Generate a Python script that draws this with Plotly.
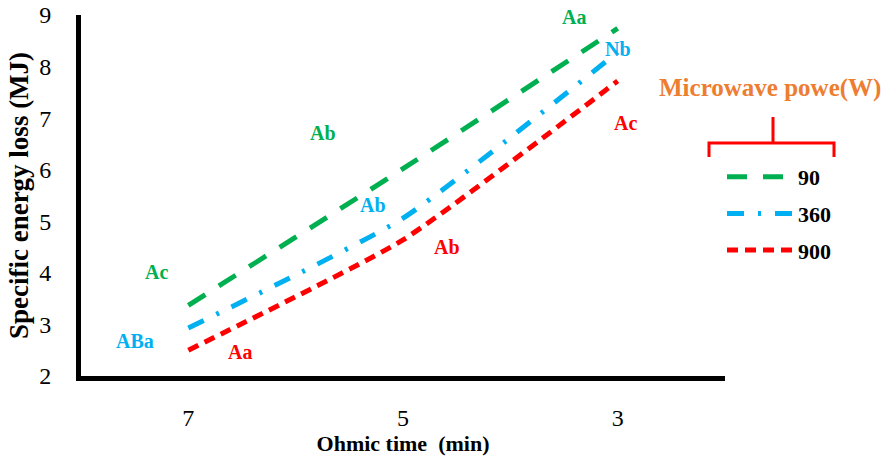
import plotly.graph_objects as go

categories = ["7", "5", "3"]
series_names = ["90", "360", "900"]
vals_90 = [3.37, 6.02, 8.74]
vals_360 = [2.93, 5.06, 8.28]
vals_900 = [2.5, 4.64, 7.72]
colors = ["#00B050", "#00B0F0", "#FF0000"]
dashes = ["20px,16px", "17px,14px,3px,14px", "11px,7px"]

# letters: (series index, category position, y, text)
letters = [
    (0, -0.15, 4.02, "Ac"), (0, 0.625, 6.71, "Ab"), (0, 1.795, 8.96, "Aa"),
    (1, -0.25, 2.68, "ABa"), (1, 0.862, 5.32, "Ab"), (1, 2.0, 8.34, "Nb"),
    (2, 0.242, 2.47, "Aa"), (2, 1.203, 4.50, "Ab"), (2, 2.037, 6.91, "Ac"),
]

W, H = 885, 457
L, R, T, B = 81, 160, 15, 81
pw, ph = W - L - R, H - T - B

def px(x):
    return (x - L) / pw

def py(y):
    return (H - B - y) / ph

FONT = "Liberation Serif, Times New Roman, serif"

fig = go.Figure()
for i, (name, vals) in enumerate(zip(series_names, [vals_90, vals_360, vals_900])):
    fig.add_trace(go.Scatter(
        x=categories, y=vals, mode="lines", name=name,
        line=dict(color=colors[i], width=5, dash=dashes[i], shape="spline", smoothing=0.5),
        legendgroup=name,
    ))

annotations = []
for si, xv, yv, t in letters:
    annotations.append(dict(x=xv, y=yv, xref="x", yref="y", text=f"<b>{t}</b>",
                            showarrow=False, font=dict(family=FONT, size=20, color=colors[si])))
annotations.append(dict(x=px(770), y=py(88), xref="paper", yref="paper",
                        xanchor="center", yanchor="middle",
                        text="<b>Microwave powe(W)</b>", showarrow=False,
                        font=dict(family=FONT, size=25, color="#ED7D31")))

shapes = [dict(type="path", xref="paper", yref="paper",
               path=f"M {px(709)},{py(157)} L {px(709)},{py(143)} L {px(834)},{py(143)} L {px(834)},{py(157)} "
                    f"M {px(773)},{py(143)} L {px(773)},{py(117)}",
               line=dict(color="#FF0000", width=3))]

fig.update_layout(
    width=W, height=H,
    margin=dict(l=L, r=R, t=T, b=B, autoexpand=False),
    plot_bgcolor="white", paper_bgcolor="white",
    font=dict(family=FONT, color="black"),
    showlegend=True,
    legend=dict(x=px(722), y=py(156), xanchor="left", yanchor="top",
                font=dict(family=FONT, size=22, color="black", weight="bold"),
                traceorder="grouped", tracegroupgap=5, itemwidth=66,
                bgcolor="rgba(0,0,0,0)"),
    annotations=annotations, shapes=shapes,
    xaxis=dict(type="category", range=[-0.5, 2.5], showline=True, linecolor="black", linewidth=5,
               showgrid=False, zeroline=False, ticks="", ticklabelstandoff=16, automargin=False,
               tickfont=dict(family=FONT, size=24),
               title=dict(text="<b>Ohmic time\u00a0\u00a0(min)</b>", font=dict(family=FONT, size=22), standoff=3)),
    yaxis=dict(range=[2, 9], dtick=1, showline=True, linecolor="black", linewidth=5,
               showgrid=False, zeroline=False, ticks="", ticklabelstandoff=20, automargin=False,
               tickfont=dict(family=FONT, size=24),
               title=dict(text="<b>Specific energy loss (MJ)</b>", font=dict(family=FONT, size=27), standoff=4)),
)

fig.write_html("out.html", config={"displayModeBar": False},
               post_script="document.body.style.margin='0';")
